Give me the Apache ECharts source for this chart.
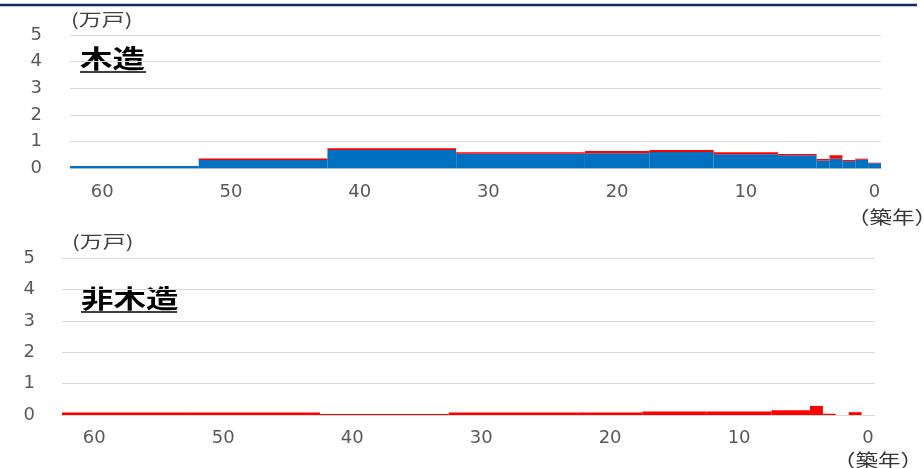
<!DOCTYPE html>
<html>
<head>
<meta charset="utf-8">
<script src="https://cdn.jsdelivr.net/npm/echarts@6/dist/echarts.min.js"></script>
<style>
html,body{margin:0;padding:0;background:#fff;}
#chart{width:924px;height:468px;}
</style>
</head>
<body>
<div id="chart"></div>
<script>
// Age bins (築年): oldest edge and newest edge of each bin
const binOld = [62.5, 52.5, 42.5, 32.5, 22.5, 17.5, 12.5, 7.5, 4.5, 3.5, 2.5, 1.5, 0.5];
const binNew = [52.5, 42.5, 32.5, 22.5, 17.5, 12.5, 7.5, 4.5, 3.5, 2.5, 1.5, 0.5, -0.5];
// 木造 (万戸 per year)
const woodBlue = [0.09, 0.31, 0.69, 0.55, 0.56, 0.61, 0.53, 0.49, 0.29, 0.36, 0.27, 0.32, 0.19];
const woodRed  = [0.00, 0.06, 0.06, 0.05, 0.09, 0.08, 0.07, 0.05, 0.06, 0.13, 0.04, 0.04, 0.02];
// 非木造 (万戸 per year)
const nonWoodRed = [0.08, 0.08, 0.03, 0.08, 0.08, 0.11, 0.11, 0.15, 0.29, 0.04, 0.00, 0.09, 0.00];
// tick labels
const xTicks = [60, 50, 40, 30, 20, 10, 0];
const yMax = 5;

const FONT = '"DejaVu Sans", "Liberation Sans", sans-serif';
const CJK = '"Noto Sans CJK JP", "Liberation Sans", sans-serif';
const BLUE = '#0070c0';
const RED = '#ff0000';

function stackData(lo, hi) {
  return binOld.map((o, i) => [o, binNew[i], lo ? lo[i] : 0, (lo ? lo[i] : 0) + hi[i]]);
}

function renderRect(params, api) {
  const a = api.coord([api.value(0), api.value(3)]);
  const b = api.coord([api.value(1), api.value(2)]);
  const x = Math.min(a[0], b[0]);
  const w = Math.abs(a[0] - b[0]);
  const y = Math.min(a[1], b[1]);
  const h = Math.abs(a[1] - b[1]);
  return {
    type: 'rect',
    shape: { x: x, y: y, width: w, height: h },
    style: { fill: api.visual('color') }
  };
}

function xAxisCfg(gridIndex, margin) {
  return {
    type: 'value', gridIndex: gridIndex, min: -0.5, max: 62.5, inverse: true,
    axisLine: { show: true, lineStyle: { color: '#d9d9d9', width: 1 } },
    axisTick: { show: false },
    splitLine: { show: false },
    axisLabel: { customValues: xTicks, color: '#595959', fontSize: 18, fontFamily: FONT, margin: margin }
  };
}
function yAxisCfg(gridIndex, margin) {
  return {
    type: 'value', gridIndex: gridIndex, min: 0, max: yMax, interval: 1,
    axisLine: { show: false }, axisTick: { show: false },
    splitLine: { show: true, lineStyle: { color: '#d9d9d9', width: 1 } },
    axisLabel: { color: '#595959', fontSize: 18, fontFamily: FONT, margin: margin }
  };
}

const chart = echarts.init(document.getElementById('chart'), null, { renderer: 'canvas' });
chart.setOption({
  animation: false,
  backgroundColor: '#fff',
  grid: [
    { left: 70, right: 43, top: 35, height: 133.3 },
    { left: 62, right: 49.5, top: 258.3, height: 156.7 }
  ],
  xAxis: [xAxisCfg(0, 15), xAxisCfg(1, 14)],
  yAxis: [yAxisCfg(0, 28), yAxisCfg(1, 27)],
  series: [
    { type: 'custom', xAxisIndex: 0, yAxisIndex: 0, renderItem: renderRect,
      itemStyle: { color: BLUE }, encode: { x: [0, 1], y: [2, 3] }, data: stackData(null, woodBlue) },
    { type: 'custom', xAxisIndex: 0, yAxisIndex: 0, renderItem: renderRect,
      itemStyle: { color: RED }, encode: { x: [0, 1], y: [2, 3] }, data: stackData(woodBlue, woodRed) },
    { type: 'custom', xAxisIndex: 1, yAxisIndex: 1, renderItem: renderRect,
      itemStyle: { color: RED }, encode: { x: [0, 1], y: [2, 3] }, data: stackData(null, nonWoodRed) }
  ],
  graphic: [
    { type: 'line', shape: { x1: 0, y1: 5, x2: 917, y2: 5 }, style: { stroke: '#0f2a5c', lineWidth: 2.5 } },
    { type: 'text', x: 71, y: 20, scaleX: 1.35, style: { text: '(万戸)', font: '17px ' + CJK, fill: '#404040', textVerticalAlign: 'middle' } },
    { type: 'text', x: 80, y: 58, scaleX: 1.3, style: { text: '木造', font: 'bold 25px ' + CJK, fill: '#000', textVerticalAlign: 'middle' } },
    { type: 'line', shape: { x1: 80, y1: 72, x2: 146, y2: 72 }, style: { stroke: '#000', lineWidth: 1.5 } },
    { type: 'text', x: 847, y: 217, scaleX: 1.25, style: { text: '（築年）', font: '18px ' + CJK, fill: '#333', textVerticalAlign: 'middle' } },
    { type: 'text', x: 72, y: 242, scaleX: 1.35, style: { text: '(万戸)', font: '17px ' + CJK, fill: '#404040', textVerticalAlign: 'middle' } },
    { type: 'text', x: 81, y: 298, scaleX: 1.3, style: { text: '非木造', font: 'bold 25px ' + CJK, fill: '#000', textVerticalAlign: 'middle' } },
    { type: 'line', shape: { x1: 81, y1: 312, x2: 177, y2: 312 }, style: { stroke: '#000', lineWidth: 1.5 } },
    { type: 'text', x: 833, y: 460, scaleX: 1.25, style: { text: '（築年）', font: '18px ' + CJK, fill: '#333', textVerticalAlign: 'middle' } }
  ]
});
</script>
</body>
</html>
